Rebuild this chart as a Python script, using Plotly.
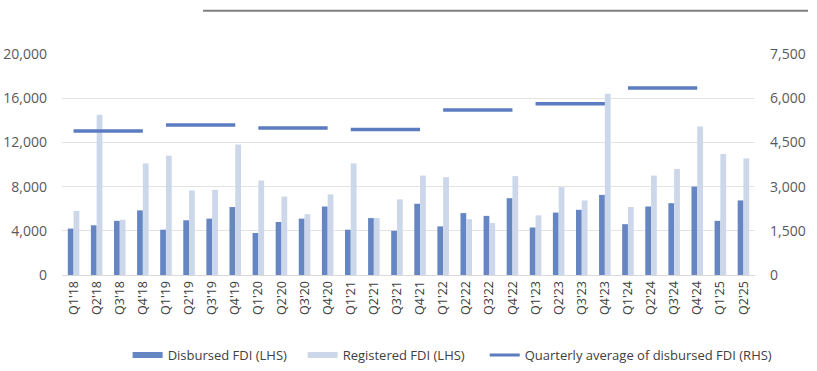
import plotly.graph_objects as go

quarters = ["Q1'18","Q2'18","Q3'18","Q4'18","Q1'19","Q2'19","Q3'19","Q4'19",
            "Q1'20","Q2'20","Q3'20","Q4'20","Q1'21","Q2'21","Q3'21","Q4'21",
            "Q1'22","Q2'22","Q3'22","Q4'22","Q1'23","Q2'23","Q3'23","Q4'23",
            "Q1'24","Q2'24","Q3'24","Q4'24","Q1'25","Q2'25"]
disbursed = [4200,4500,4900,5850,4100,4950,5100,6150,
             3800,4800,5100,6200,4100,5150,4000,6450,
             4400,5600,5350,6950,4300,5650,5900,7250,
             4600,6200,6500,8000,4900,6750]
registered = [5800,14500,5000,10100,10800,7650,7700,11800,
              8550,7100,5500,7300,10100,5150,6850,9000,
              8850,5050,4700,8950,5400,7950,6750,16400,
              6150,9000,9600,13450,10950,10550]
years = ["2018","2019","2020","2021","2022","2023","2024"]
quarterly_avg = [4890,5090,4990,4940,5600,5810,6350]

left_ticks = [0,4000,8000,12000,16000,20000]
right_ticks = [0,1500,3000,4500,6000,7500]

C_DISB = "#6685C3"
C_REG = "#CDD7EA"
C_AVG = "#5B7DC0"
FONT = "Open Sans"

fig = go.Figure()
fig.add_trace(go.Bar(x=quarters, y=disbursed, name="Disbursed FDI (LHS)",
                     marker_color=C_DISB, marker_line_width=0, showlegend=False))
fig.add_trace(go.Bar(x=quarters, y=registered, name="Registered FDI (LHS)",
                     marker_color=C_REG, marker_line_width=0, showlegend=False))
for i, v in enumerate(quarterly_avg):
    xs = quarters[i*4:i*4+4]
    fig.add_trace(go.Scatter(x=xs, y=[v]*len(xs), yaxis="y2", mode="lines",
                             line=dict(color=C_AVG, width=3.5),
                             name="Quarterly average of disbursed FDI (RHS)",
                             showlegend=False, legendgroup="avg"))

# legend entries (rectangular swatches like the reference)
fig.add_trace(go.Scatter(x=[None], y=[None], mode="lines", name="Disbursed FDI (LHS)",
                         line=dict(color=C_DISB, width=6), legend="legend"))
fig.add_trace(go.Scatter(x=[None], y=[None], mode="lines", name="Registered FDI (LHS)",
                         line=dict(color=C_REG, width=6), legend="legend"))
fig.add_trace(go.Scatter(x=[None], y=[None], mode="lines", yaxis="y2",
                         name="Quarterly average of disbursed FDI (RHS)",
                         line=dict(color=C_AVG, width=3), legend="legend2"))

legend_common = dict(orientation="h", xanchor="left", yref="container", y=16/371,
                     yanchor="middle", font=dict(size=13, color="#404040"),
                     traceorder="normal", itemwidth=30, bgcolor="rgba(0,0,0,0)")

fig.update_layout(
    width=817, height=371,
    margin=dict(l=62, r=62, t=54, b=96),
    paper_bgcolor="white", plot_bgcolor="white",
    barmode="group", bargap=0.5, bargroupgap=0,
    font=dict(family=FONT, color="#595959", size=12),
    xaxis=dict(type="category", tickangle=-90, tickfont=dict(size=12.5, color="#404040"),
               showline=True, linecolor="#D9D9D9", linewidth=1, ticks="", showgrid=False,
               automargin=False),
    yaxis=dict(range=[0,20000], tickvals=left_ticks, tickformat=",d",
               showgrid=True, gridcolor="#E3E3E3", gridwidth=1, zeroline=False,
               tickfont=dict(size=14, color="#595959"), ticklabelstandoff=14,
               automargin=False),
    yaxis2=dict(range=[0,7500], tickvals=right_ticks, tickformat=",d", overlaying="y",
                side="right", showgrid=False, zeroline=False,
                tickfont=dict(size=14, color="#595959"), ticklabelstandoff=14,
                automargin=False),
    legend=dict(legend_common, x=0.0947, entrywidth=130, entrywidthmode="pixels"),
    legend2=dict(legend_common, x=0.610),
    shapes=[dict(type="line", xref="paper", yref="paper", x0=0.2035, x1=1.0765,
                 y0=1.196, y1=1.196, line=dict(color="#7F7F7F", width=2))],
)
fig.write_html("out.html", config={"displayModeBar": False},
               post_script="document.body.style.margin='0';")
